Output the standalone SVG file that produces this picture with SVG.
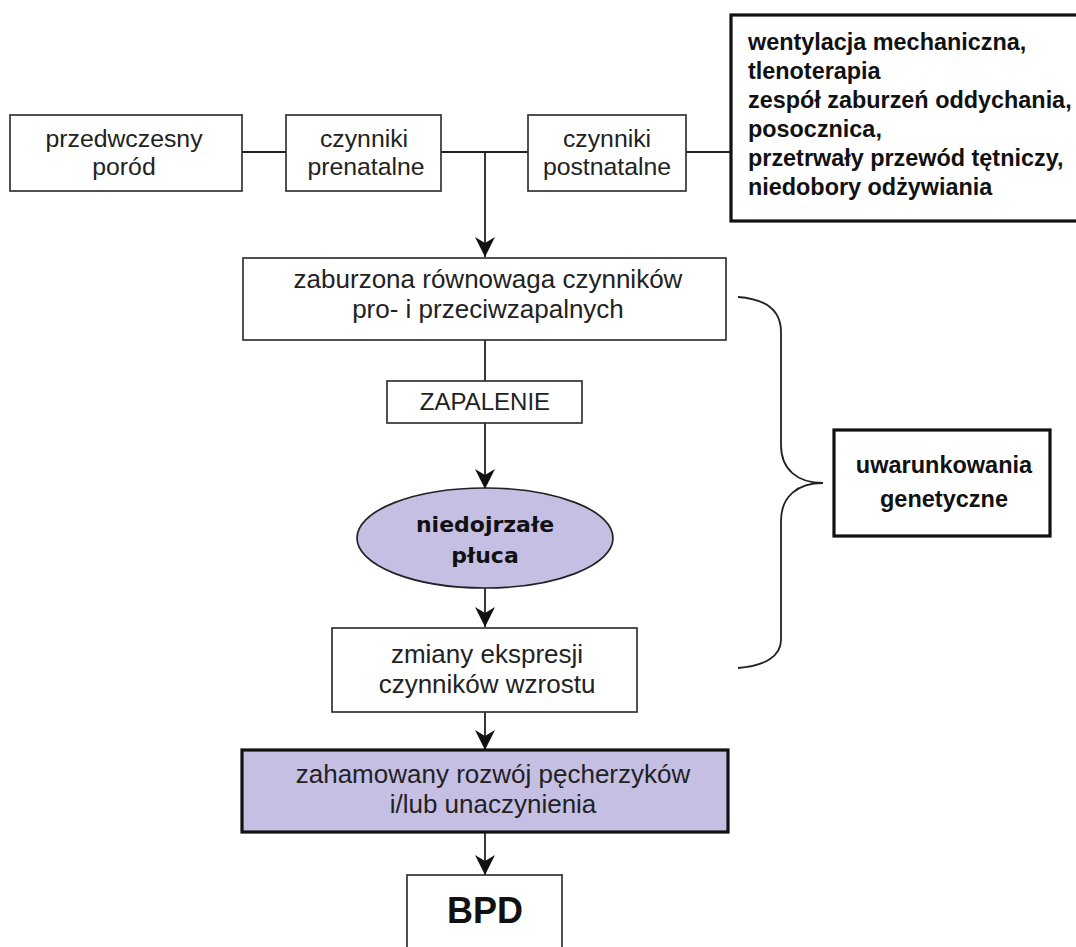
<svg xmlns="http://www.w3.org/2000/svg" width="1076" height="947" viewBox="0 0 1076 947">
<defs>
<style>
.box{fill:#fff;stroke:#333;stroke-width:1.7}
.thick{fill:#fff;stroke:#111;stroke-width:3.2}
.lav{fill:#c5bfe4}
.t{font-family:"Liberation Sans",Arial,sans-serif;font-size:26px;fill:#222;text-anchor:middle}
.s{font-size:24.8px}
.b{font-family:"Liberation Sans",Arial,sans-serif;font-size:23.4px;font-weight:bold;fill:#111}
.bc{font-family:"Liberation Sans",Arial,sans-serif;font-size:23.5px;font-weight:bold;fill:#111;text-anchor:middle}
.el{font-family:"DejaVu Sans",sans-serif;font-size:22px;font-weight:bold;fill:#111;text-anchor:middle}
.ln{fill:none;stroke:#222;stroke-width:1.8}
</style>
<marker id="arr" viewBox="0 0 20 22" refX="20" refY="11" markerWidth="20" markerHeight="22" markerUnits="userSpaceOnUse" orient="auto">
<path d="M0,1 L20,11 L0,21 L6,11 Z" fill="#111"/>
</marker>
</defs>
<rect width="1076" height="947" fill="#fff"/>
<g id="connectors">
<line class="ln" x1="242" y1="152" x2="286" y2="152"/>
<line class="ln" x1="441" y1="152" x2="528" y2="152"/>
<line class="ln" x1="686" y1="152" x2="730" y2="152"/>
<line class="ln" x1="485" y1="152" x2="485" y2="257" marker-end="url(#arr)"/>
<line class="ln" x1="485" y1="340" x2="485" y2="381"/>
<line class="ln" x1="485" y1="423" x2="485" y2="489" marker-end="url(#arr)"/>
<line class="ln" x1="485" y1="588" x2="485" y2="627" marker-end="url(#arr)"/>
<line class="ln" x1="485" y1="712" x2="485" y2="750" marker-end="url(#arr)"/>
<line class="ln" x1="485" y1="832" x2="485" y2="875" marker-end="url(#arr)"/>
<path class="ln" d="M738,297 C765,299 781,310 781,332 L781,445 C781,470 798,483 823,483 C798,483 781,496 781,521 L781,640 C781,656 765,666 738,668"/>
</g>
<g id="n-przedwczesny">
<rect class="box" x="10" y="115" width="232" height="76"/>
<text class="t s"><tspan x="124" y="147">przedwczesny</tspan><tspan x="124" y="175">poród</tspan></text>
</g>
<g id="n-prenatalne">
<rect class="box" x="286" y="115" width="155" height="76"/>
<text class="t s"><tspan x="364" y="147">czynniki</tspan><tspan x="366" y="175">prenatalne</tspan></text>
</g>
<g id="n-postnatalne">
<rect class="box" x="528" y="115" width="158" height="76"/>
<text class="t s"><tspan x="607" y="147">czynniki</tspan><tspan x="607" y="175">postnatalne</tspan></text>
</g>
<g id="n-postnatal-list">
<rect class="thick" x="731" y="15" width="360" height="206"/>
<text class="b"><tspan x="748" y="50">wentylacja mechaniczna,</tspan><tspan x="748" y="79">tlenoterapia</tspan><tspan x="748" y="108">zespół zaburzeń oddychania,</tspan><tspan x="748" y="137">posocznica,</tspan><tspan x="748" y="166">przetrwały przewód tętniczy,</tspan><tspan x="748" y="195">niedobory odżywiania</tspan></text>
</g>
<g id="n-zaburzona">
<rect class="box" x="243" y="258" width="483" height="82"/>
<text class="t"><tspan x="488" y="288">zaburzona równowaga czynników</tspan><tspan x="488" y="318">pro- i przeciwzapalnych</tspan></text>
</g>
<g id="n-zapalenie">
<rect class="box" x="387" y="381" width="195" height="42"/>
<text class="t" x="485" y="410" style="font-size:24px">ZAPALENIE</text>
</g>
<g id="n-pluca">
<ellipse class="lav" cx="485" cy="538" rx="128" ry="50" stroke="#222" stroke-width="1.7"/>
<text class="el"><tspan x="485" y="532">niedojrzałe</tspan><tspan x="485" y="563">płuca</tspan></text>
</g>
<g id="n-zmiany">
<rect class="box" x="332" y="628" width="305" height="84"/>
<text class="t"><tspan x="487" y="663">zmiany ekspresji</tspan><tspan x="487" y="693">czynników wzrostu</tspan></text>
</g>
<g id="n-zahamowany">
<rect class="lav" x="242" y="750" width="486" height="82" stroke="#111" stroke-width="3.2"/>
<text class="t"><tspan x="493" y="783">zahamowany rozwój pęcherzyków</tspan><tspan x="493" y="813">i/lub unaczynienia</tspan></text>
</g>
<g id="n-bpd">
<rect class="box" x="407" y="875" width="155" height="90"/>
<text class="t" x="485" y="923" style="font-size:36px;font-weight:bold;fill:#111">BPD</text>
</g>
<g id="n-genetyczne">
<rect class="thick" x="834" y="430" width="216" height="106"/>
<text class="bc"><tspan x="944" y="473">uwarunkowania</tspan><tspan x="944" y="507">genetyczne</tspan></text>
</g>
</svg>
